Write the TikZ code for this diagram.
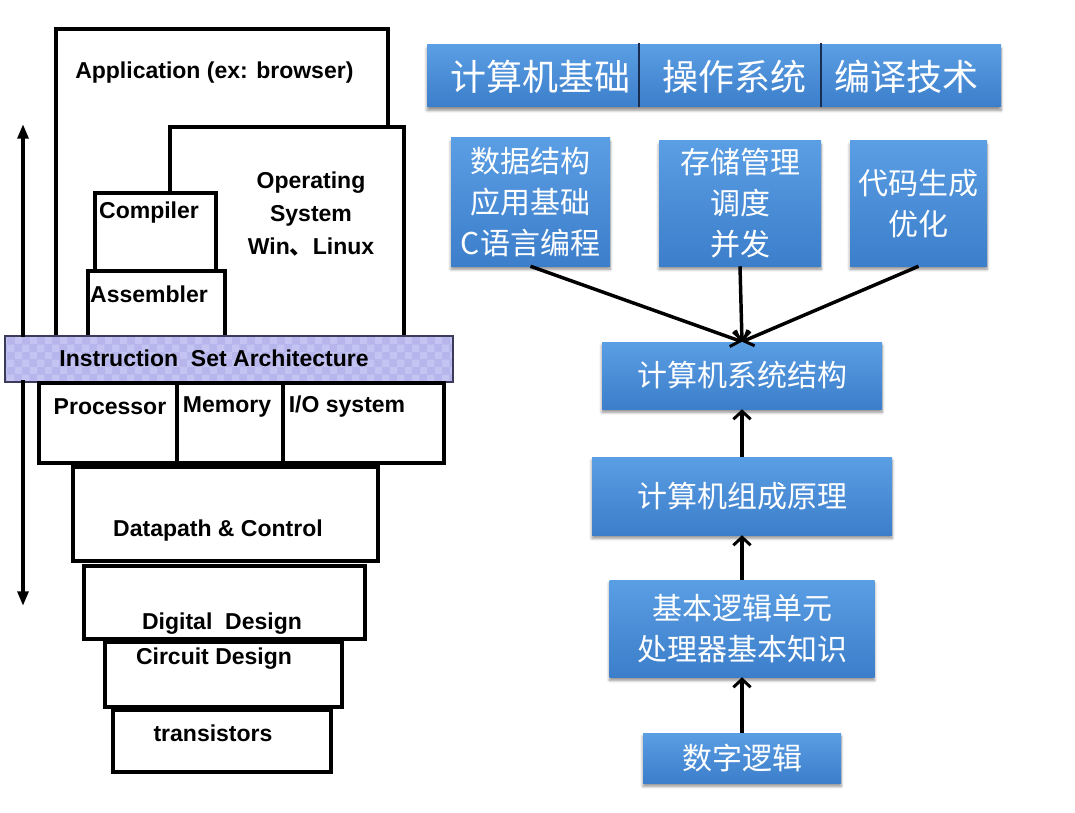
\documentclass[tikz,border=0pt]{standalone}
\usepackage{fontspec}
\setmainfont{Liberation Sans}
\newfontfamily\cjk{Noto Sans CJK SC}
\usetikzlibrary{arrows.meta,shadows.blur,patterns}

\definecolor{boxtop}{RGB}{90,158,228}
\definecolor{boxbot}{RGB}{60,126,202}
\definecolor{lav}{RGB}{182,182,236}
\definecolor{lavlight}{RGB}{196,196,242}
\definecolor{isaedge}{RGB}{60,60,90}
\definecolor{divc}{RGB}{25,45,80}

\begin{document}
\begin{tikzpicture}[x=0.75pt,y=-0.75pt,
  layer/.style={line width=2.8pt, draw=black, line join=miter},
  lbl/.style={font=\fontsize{17.25}{24.75}\selectfont\bfseries, inner sep=0pt, text=black, align=center},
  bluebox/.style={draw=none, top color=boxtop, bottom color=boxbot,
     blur shadow={shadow xshift=0pt, shadow yshift=-2.5pt, shadow blur steps=6, shadow opacity=45},
     inner sep=0pt},
  ctext/.style={font=\cjk\fontsize{22.5}{30.75}\selectfont, text=white, align=center},
  bigtext/.style={font=\cjk\fontsize{27}{32}\selectfont, text=white, inner sep=0pt},
  flow/.style={line width=2.6pt, -{Straight Barb[length=6pt,width=13pt,line width=2.2pt]}},
  updown/.style={line width=2.8pt, -{Triangle[length=11pt,width=8pt]}},
]
\useasboundingbox (0,0) rectangle (1075,813);

% ---------------- left: layered stack ----------------
% Application
\draw[layer] (56,337) -- (56,29) -- (388,29) -- (388,127);
% Operating system
\draw[layer] (170,193) -- (170,127) -- (404,127) -- (404,337);
% Compiler
\draw[layer] (95,271) -- (95,193) -- (216,193) -- (216,271);
% Assembler
\draw[layer] (88,337) -- (88,271) -- (225,271) -- (225,337);

% ISA band
\fill[lav] (5,336) rectangle (453,382);
\fill[pattern=checkerboard, pattern color=lavlight] (5,336) rectangle (453,382);
\draw[isaedge, line width=1.3pt] (5,336) rectangle (453,382);

% Processor / Memory / I/O
\draw[layer] (39,383) rectangle (444,463);
\draw[layer] (177,383) -- (177,463);
\draw[layer] (283,383) -- (283,463);

% lower layers
\draw[layer] (73,467) rectangle (378,561);
\draw[layer] (84,566) rectangle (365,639);
\draw[layer] (105,642) rectangle (342,707);
\draw[layer] (113,710) rectangle (331,772);

% labels
\node[lbl, anchor=west] (app) at (75,73) {Application (ex: browser)};
\node[lbl] (os) at (311,214) {Operating\\System\\Win{\cjk 、}Linux};
\node[lbl] (comp) at (149,213) {Compiler};
\node[lbl] (asm) at (149,294) {Assembler};
\node[lbl] (isa) at (214,358) {Instruction\ \ Set Architecture};
\node[lbl] (proc) at (110,407) {Processor};
\node[lbl] (mem) at (227,407) {Memory};
\node[lbl] (io) at (347,407) {I/O system};
\node[lbl] (dp) at (218,531) {Datapath \& Control};
\node[lbl] (dd) at (222,624) {Digital\ \ Design};
\node[lbl] (cd) at (214,659) {Circuit Design};
\node[lbl] (tr) at (213,733) {transistors};

% up / down arrows
\coordinate (upS) at (23,337);
\coordinate (upE) at (23,124);
\coordinate (dnS) at (23,380);
\coordinate (dnE) at (23,606);
\draw[updown] (upS) -- (upE);
\draw[updown] (dnS) -- (dnE);

% ---------------- right: course map ----------------
\node[bluebox, minimum width=574*0.75pt, minimum height=62*0.75pt] (bar) at (714,76) {};
\draw[divc, line width=1.1pt] (639,43) -- (639,107);
\draw[divc, line width=1.1pt] (821,43) -- (821,107);
\node[bigtext] (t1) at (540,77) {计算机基础};
\node[bigtext] (t2) at (734,77) {操作系统};
\node[bigtext] (t3) at (906,77) {编译技术};

\node[bluebox, ctext, minimum width=159*0.75pt, minimum height=128*0.75pt] (b1) at (530.5,202) {数据结构\\应用基础\\C语言编程};
\node[bluebox, ctext, minimum width=162*0.75pt, minimum height=125*0.75pt] (b2) at (740,203.5) {存储管理\\调度\\并发};
\node[bluebox, ctext, minimum width=137*0.75pt, minimum height=125*0.75pt] (b3) at (918.5,203.5) {代码生成\\优化};

\node[bluebox, ctext, minimum width=280*0.75pt, minimum height=67*0.75pt] (sys) at (742,375.5) {计算机系统结构};
\node[bluebox, ctext, minimum width=300*0.75pt, minimum height=78*0.75pt] (zc) at (742,496) {计算机组成原理};
\node[bluebox, ctext, minimum width=265*0.75pt, minimum height=97*0.75pt] (jb) at (742,628.5) {基本逻辑单元\\处理器基本知识};
\node[bluebox, ctext, minimum width=198*0.75pt, minimum height=50*0.75pt] (sz) at (742,758) {数字逻辑};

\draw[flow] (b1.south) -- (sys.north);
\draw[flow] (b2.south) -- (sys.north);
\draw[flow] (b3.south) -- (sys.north);
\draw[flow] (zc.north) -- (sys.south);
\draw[flow] (jb.north) -- (zc.south);
\draw[flow] (sz.north) -- (jb.south);
\end{tikzpicture}
\end{document}
